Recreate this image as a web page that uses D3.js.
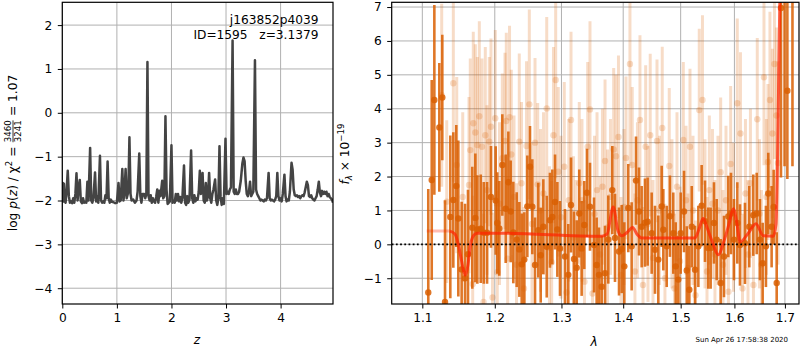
<!DOCTYPE html>
<html>
<head>
<meta charset="utf-8">
<script src="https://cdn.jsdelivr.net/npm/d3@7"></script>
<style>
  body { margin: 0; background: #fff; }
  svg text { font-family: "DejaVu Sans", sans-serif; fill: #000; }
</style>
</head>
<body>
<svg id="chart" width="800" height="350"></svg>
<script>
// ---------- redshift probability, log p(z) ----------
const pzZ = [0.00,0.01,0.02,0.03,0.04,0.06,0.08,0.10,0.12,0.14,0.16,0.18,0.20,0.22,0.24,0.26,0.28,0.30,0.32,0.34,
  0.36,0.38,0.40,0.42,0.44,0.46,0.48,0.51,0.53,0.55,0.57,0.60,0.62,0.64,0.66,0.69,0.71,0.73,0.75,0.77,
  0.79,0.81,0.83,0.85,0.87,0.89,0.91,0.94,0.97,1.00,1.03,1.05,1.07,1.10,1.12,1.14,1.16,1.18,1.21,1.23,
  1.25,1.27,1.30,1.33,1.36,1.38,1.41,1.43,1.45,1.47,1.50,1.52,1.54,1.56,1.58,1.60,1.62,1.64,1.66,1.68,
  1.70,1.72,1.74,1.76,1.78,1.80,1.83,1.85,1.87,1.89,1.91,1.93,1.95,1.97,2.00,2.02,2.04,2.06,2.08,2.10,
  2.12,2.14,2.16,2.18,2.20,2.23,2.25,2.27,2.29,2.31,2.33,2.36,2.38,2.40,2.42,2.44,2.46,2.48,2.50,2.52,
  2.54,2.57,2.59,2.61,2.63,2.65,2.67,2.69,2.71,2.73,2.75,2.77,2.80,2.82,2.84,2.86,2.88,2.90,2.92,2.94,
  2.96,2.99,3.01,3.03,3.05,3.07,3.09,3.12,3.14,3.16,3.18,3.20,3.22,3.24,3.27,3.30,3.32,3.34,3.36,3.38,
  3.40,3.42,3.44,3.46,3.48,3.50,3.53,3.55,3.57,3.59,3.61,3.63,3.65,3.67,3.69,3.71,3.73,3.75,3.78,3.80,
  3.82,3.84,3.86,3.88,3.90,3.92,3.94,3.96,3.98,4.00,4.02,4.04,4.07,4.09,4.11,4.13,4.15,4.17,4.20,4.22,
  4.24,4.26,4.28,4.30,4.32,4.34,4.36,4.38,4.40,4.42,4.44,4.46,4.48,4.50,4.52,4.54,4.56,4.58,4.60,4.62,
  4.64,4.66,4.68,4.70,4.72,4.74,4.76,4.78,4.80,4.82,4.84,4.86,4.88,4.90,4.92,4.94,4.96];
const pzLog = [-1.98,-1.60,-2.02,-1.62,-1.95,-2.05,-1.75,-1.32,-1.90,-2.05,-2.02,-2.06,-1.95,-2.05,-1.85,-1.38,-2.00,-1.70,-1.53,-2.02,
  -2.06,-1.95,-2.05,-2.04,-2.05,-1.57,-2.00,-0.80,-2.00,-2.05,-1.95,-1.36,-2.02,-1.90,-2.05,-0.98,-2.00,-2.05,-2.02,-2.05,
  -1.88,-1.95,-1.11,-1.95,-2.05,-1.98,-2.03,-2.04,-2.06,-2.05,-1.60,-2.02,-2.00,-1.28,-2.00,-1.80,-1.28,-1.95,-1.80,-0.56,
  -1.85,-2.00,-1.98,-2.05,-2.00,-1.80,-0.93,-1.90,-2.05,-1.85,-1.85,-1.95,-1.85,1.16,-1.90,-2.00,-1.88,-2.05,-1.95,-2.02,
  -2.05,-1.92,-1.75,-2.05,-1.78,-1.90,-1.55,-1.95,-1.90,-0.08,-1.75,-2.08,-2.05,-2.02,-0.74,-2.05,-2.00,-2.05,-1.85,-2.00,
  -1.85,-2.02,-1.92,-2.05,-1.95,-1.20,-2.05,-2.10,-1.90,-2.05,-1.98,-0.86,-1.95,-2.05,-1.88,-2.02,-1.95,-1.98,-1.80,-1.32,
  -1.85,-1.37,-2.00,-2.05,-1.60,-2.00,-1.90,-1.37,-1.95,-2.05,-1.85,-1.75,-1.52,-2.00,-2.10,-1.95,-0.76,-1.90,-2.10,-1.95,
  -2.08,-0.59,-1.85,-1.80,-1.85,-1.75,-1.70,1.65,-1.80,-1.85,-1.75,-1.85,-1.85,-1.80,-1.55,-1.15,-1.02,-1.10,-1.55,-1.85,
  -1.90,-1.80,-1.57,-1.90,-1.85,-1.80,1.20,-1.75,-1.85,-1.90,-1.95,-2.00,-1.98,-2.00,-2.02,-1.98,-2.00,-1.95,-1.37,-1.95,
  -2.00,-1.98,-2.00,-2.02,-1.98,-1.90,-1.37,-1.90,-2.00,-1.95,-2.02,-1.85,-1.41,-1.90,-2.02,-1.98,-2.00,-1.80,-1.14,-1.30,
  -1.75,-1.88,-1.90,-1.88,-1.92,-1.90,-1.95,-1.90,-1.88,-1.90,-1.82,-1.70,-1.57,-1.65,-1.90,-1.92,-1.88,-1.95,-1.98,-2.00,
  -1.95,-1.90,-1.75,-1.57,-1.82,-1.90,-1.78,-1.85,-1.80,-1.85,-1.80,-1.90,-1.85,-1.92,-1.95,-1.98,-2.05];
const pzTicksX = [0, 1, 2, 3, 4];
const pzTicksY = [-4, -3, -2, -1, 0, 1, 2];

// ---------- spectrum: primary grism extraction ----------
const specLam = [1.1079,1.1125,1.1160,1.1227,1.1267,1.1304,1.1376,1.1417,1.1458,1.1486,
  1.1532,1.1579,1.1620,1.1680,1.1723,1.1751,1.1799,1.1842,1.1889,1.1945,
  1.2013,1.2036,1.2065,1.2109,1.2158,1.2197,1.2231,1.2270,1.2320,1.2359,
  1.2394,1.2433,1.2478,1.2518,1.2553,1.2594,1.2643,1.2680,1.2720,1.2772,
  1.2822,1.2858,1.2900,1.2936,1.2977,1.3055,1.3107,1.3150,1.3197,1.3240,
  1.3281,1.3319,1.3361,1.3404,1.3453,1.3518,1.3561,1.3599,1.3643,1.3698,
  1.3752,1.3818,1.3863,1.3930,1.3975,1.4019,1.4086,1.4143,1.4217,1.4268,
  1.4314,1.4371,1.4417,1.4487,1.4545,1.4603,1.4662,1.4691,1.4751,1.4808,
  1.4868,1.4911,1.4958,1.5001,1.5061,1.5110,1.5157,1.5201,1.5261,1.5322,
  1.5383,1.5445,1.5506,1.5550,1.5612,1.5663,1.5738,1.5801,1.5883,1.5934,
  1.5992,1.6056,1.6107,1.6204,1.6288,1.6367,1.6434,1.6498,1.6552,1.6617,
  1.6664,1.6731,1.6772,1.6833,1.6920,1.6993,1.7050,1.7155];
const specFlux = [-1.42,1.90,4.26,3.45,4.33,-1.70,0.81,1.31,1.72,0.76,
  -0.74,-1.00,-0.29,0.49,0.78,0.44,0.46,0.34,0.34,1.40,
  1.29,0.63,0.47,2.34,1.05,1.83,0.97,0.35,0.14,-0.15,
  -0.59,-0.45,1.12,2.29,1.11,-0.61,0.42,-0.32,0.52,-0.07,
  0.71,0.81,1.25,0.44,-0.12,-0.36,-0.90,1.16,-0.43,-0.69,
  0.91,-0.12,0.57,1.52,1.11,-0.02,-0.61,-0.90,-1.25,-0.85,
  0.14,1.60,0.19,-0.21,-0.14,-0.65,1.07,-0.06,1.88,0.97,
  0.52,0.64,0.67,0.33,-0.16,-0.45,1.12,0.43,-0.06,0.83,
  0.33,-0.65,-1.04,0.33,0.97,-0.77,-1.34,0.52,-0.75,-0.06,
  1.14,0.68,-0.11,-0.11,0.63,0.14,-1.14,-0.36,0.82,0.91,
  0.14,0.63,-0.02,0.03,0.52,0.86,0.91,0.14,-0.56,-0.06,
  1.50,0.52,1.10,-1.14,6.97,8.50,4.53,9.00];
const specErr = [3.05,2.95,2.80,1.90,1.85,3.00,2.40,2.00,1.80,2.30,
  2.00,2.20,1.90,1.80,1.90,1.60,1.60,1.50,1.50,1.50,
  1.60,1.50,1.40,1.50,1.60,1.50,1.50,1.50,1.40,1.40,
  1.50,1.40,1.50,1.20,1.40,1.40,1.40,1.40,1.40,1.50,
  1.40,1.40,1.40,1.40,1.40,1.40,1.50,1.40,1.40,1.40,
  1.30,1.40,1.30,1.30,1.30,1.40,1.40,1.40,1.50,1.40,
  1.30,1.30,1.30,1.30,1.30,1.30,1.30,1.30,1.30,1.30,
  1.20,1.30,1.30,1.20,1.30,1.30,1.20,1.20,1.20,1.20,
  1.20,1.30,1.30,1.20,1.20,1.30,1.30,1.20,1.30,1.20,
  1.20,1.20,1.20,1.20,1.20,1.20,1.30,1.20,1.20,1.20,
  1.20,1.20,1.20,1.20,1.20,1.20,1.20,1.20,1.20,1.20,
  1.20,1.20,1.10,1.50,5.00,6.20,2.60,6.70];

// ---------- spectrum: secondary (contaminated / other orient) extraction ----------
const altLam = [1.1259,1.1327,1.1417,1.1464,1.1547,1.1634,1.1652,1.1686,1.1694,1.1723,
  1.1751,1.1779,1.1817,1.1839,1.1864,1.1888,1.1921,1.1945,1.1967,1.2007,
  1.2036,1.2068,1.2109,1.2148,1.2167,1.2187,1.2214,1.2240,1.2280,1.2317,
  1.2358,1.2391,1.2428,1.2466,1.2508,1.2548,1.2594,1.2634,1.2677,1.2723,
  1.2772,1.2814,1.2848,1.2876,1.2910,1.2950,1.2993,1.3044,1.3079,1.3115,
  1.3150,1.3189,1.3229,1.3281,1.3324,1.3364,1.3416,1.3453,1.3494,1.3526,
  1.3567,1.3615,1.3656,1.3698,1.3739,1.3788,1.3841,1.3880,1.3921,1.3963,
  1.4013,1.4047,1.4114,1.4153,1.4199,1.4242,1.4285,1.4337,1.4383,1.4423,
  1.4462,1.4510,1.4580,1.4623,1.4672,1.4720,1.4796,1.4844,1.4889,1.4934,
  1.4988,1.5048,1.5097,1.5133,1.5169,1.5224,1.5270,1.5339,1.5398,1.5445,
  1.5482,1.5525,1.5584,1.5631,1.5687,1.5738,1.5782,1.5839,1.5886,1.5928,
  1.5982,1.6055,1.6117,1.6156,1.6214,1.6263,1.6311,1.6370,1.6445,1.6488,
  1.6528,1.6578,1.6627,1.6657,1.6697,1.6747,1.6788,1.6828,1.6859];
const altFlux = [4.40,1.26,4.75,2.34,1.40,1.75,2.78,-1.17,3.57,3.30,
  2.93,3.78,2.88,-1.70,3.22,1.60,3.03,3.47,-1.57,3.72,
  -0.82,1.20,2.54,3.05,3.64,-0.42,3.75,2.65,1.40,-0.60,
  3.03,1.80,-1.30,2.90,4.13,0.60,3.00,1.77,1.00,1.50,
  4.01,-0.10,-0.53,3.22,4.85,2.14,0.80,2.29,-1.42,1.30,
  3.67,0.20,-0.50,1.80,1.30,-1.10,2.88,3.98,-1.45,0.90,
  1.60,-0.30,1.70,2.46,0.50,1.40,2.80,2.60,3.17,-0.90,
  1.10,2.55,5.32,2.34,-0.80,1.30,3.67,-1.20,2.88,0.60,
  3.22,-0.40,3.05,1.00,3.43,-1.00,2.31,0.90,-1.30,1.70,
  -0.50,3.08,1.30,-0.70,2.88,1.00,-1.50,3.96,4.26,0.90,
  -0.80,1.60,1.20,-0.30,1.00,2.13,-0.60,1.30,-1.40,2.37,
  0.80,4.16,3.27,-1.30,1.50,-0.30,1.80,-1.20,3.69,0.90,
  -0.60,4.93,1.40,2.43,4.26,3.27,5.32,3.80,2.40];
const altErr = [2.7,2.4,2.9,2.6,2.5,2.6,2.7,2.6,2.7,2.6,
  2.6,2.8,2.6,2.6,2.6,2.5,2.5,2.6,2.5,2.6,
  2.4,2.4,2.5,2.6,2.6,2.4,2.7,2.5,2.4,2.4,
  2.6,2.4,2.4,2.5,2.8,2.4,2.5,2.4,2.4,2.4,
  2.7,2.4,2.4,2.6,2.9,2.5,2.4,2.5,2.4,2.4,
  2.6,2.4,2.4,2.4,2.4,2.4,2.5,2.6,2.4,2.3,
  2.3,2.3,2.3,2.4,2.3,2.3,2.4,2.4,2.4,2.3,
  2.3,2.4,3.0,2.3,2.3,2.3,2.5,2.3,2.4,2.3,
  2.4,2.3,2.4,2.2,2.4,2.2,2.3,2.2,2.2,2.2,
  2.2,2.3,2.2,2.2,2.3,2.2,2.2,2.4,2.5,2.2,
  2.2,2.2,2.2,2.2,2.2,2.2,2.2,2.2,2.2,2.3,
  2.2,2.5,2.4,2.2,2.2,2.2,2.2,2.2,2.4,2.2,
  2.2,2.6,2.3,2.3,2.6,2.5,2.8,2.6,3.0];

// ---------- best-fit template ----------
const modelLam = [1.1058,1.1372,1.1440,1.1486,1.1532,1.1579,1.1620,1.1648,1.1695,1.1747,
  1.2027,1.3643,1.3730,1.3834,1.3913,1.3975,1.4064,1.4160,1.4234,1.4314,
  1.5261,1.5334,1.5413,1.5482,1.5575,1.5694,1.5801,1.5896,1.5979,1.6050,
  1.6107,1.6268,1.6419,1.6564,1.6765,1.6820,1.6860,1.6899,1.6940];
const modelFlux = [0.39,0.39,0.30,0.00,-0.50,-0.91,-0.60,-0.10,0.25,0.33,
  0.33,0.24,0.30,1.10,0.40,0.25,0.35,0.50,0.30,0.19,
  0.19,0.45,0.77,0.50,0.10,-0.31,0.10,0.60,1.05,0.60,
  0.07,0.33,0.61,0.25,0.24,0.60,3.50,7.50,12.0];
const specTicksX = [1.1, 1.2, 1.3, 1.4, 1.5, 1.6, 1.7];
const specTicksY = [-1, 0, 1, 2, 3, 4, 5, 6, 7];

// ---------- layout ----------
const FS = 12.2;
const GRID = "#b0b0b0";
const ORANGE = "#d95f02";
const svg = d3.select("#chart");

const PL = {x0: 62.3, x1: 333, y0: 2.3, y1: 304};
const PR = {x0: 391.7, x1: 799, y0: 2.3, y1: 304};

const xL = d3.scaleLinear().domain([0, 4.96]).range([PL.x0, PL.x1]);
const yL = d3.scaleLinear().domain([-4.36, 2.52]).range([PL.y1, PL.y0]);
const xR = d3.scaleLog().domain([1.0603, 1.729]).range([PR.x0, PR.x1]);
const yR = d3.scaleLinear().domain([-1.76, 7.14]).range([PR.y1, PR.y0]);

const defs = svg.append("defs");
function clip(id, p) {
  defs.append("clipPath").attr("id", id).append("rect")
    .attr("x", p.x0).attr("y", p.y0).attr("width", p.x1 - p.x0).attr("height", p.y1 - p.y0);
}
clip("clipL", PL);
clip("clipR", PR);

function grid(p, xs, ys, xv, yv) {
  const g = svg.append("g").attr("stroke", GRID).attr("stroke-width", 1);
  xv.forEach(v => g.append("line").attr("x1", xs(v)).attr("x2", xs(v)).attr("y1", p.y0).attr("y2", p.y1));
  yv.forEach(v => g.append("line").attr("x1", p.x0).attr("x2", p.x1).attr("y1", ys(v)).attr("y2", ys(v)));
}

function axes(p, xs, ys, xv, yv, xfmt, yfmt) {
  const ax = svg.append("g").attr("transform", `translate(0,${p.y1})`)
    .call(d3.axisBottom(xs).tickValues(xv).tickFormat(xfmt).tickSize(4.5).tickPadding(5));
  const ay = svg.append("g").attr("transform", `translate(${p.x0},0)`)
    .call(d3.axisLeft(ys).tickValues(yv).tickFormat(yfmt).tickSize(4.5).tickPadding(5.5));
  [ax, ay].forEach(a => {
    a.select(".domain").remove();
    a.selectAll("text").attr("font-size", FS).attr("font-family", "DejaVu Sans").attr("fill", "#000");
    a.selectAll("line").attr("stroke", "#000").attr("stroke-width", 1);
  });
}

function frame(p) {
  svg.append("rect").attr("x", p.x0).attr("y", p.y0)
    .attr("width", p.x1 - p.x0).attr("height", p.y1 - p.y0)
    .attr("fill", "none").attr("stroke", "#000").attr("stroke-width", 1.2);
}

const minus = v => String(v).replace("-", "\u2212");

// ---------- left panel: log p(z) ----------
grid(PL, xL, yL, pzTicksX, pzTicksY);
svg.append("path")
  .datum(pzZ.map((z, i) => [z, pzLog[i]]))
  .attr("clip-path", "url(#clipL)")
  .attr("fill", "none").attr("stroke", "#444").attr("stroke-width", 2.5)
  .attr("stroke-linejoin", "round")
  .attr("d", d3.line().x(d => xL(d[0])).y(d => yL(d[1])));
axes(PL, xL, yL, pzTicksX, pzTicksY, d => String(d), minus);
frame(PL);

svg.append("text").attr("x", 318.5).attr("y", 24).attr("text-anchor", "end")
  .attr("font-size", FS).text("j163852p4039");
svg.append("text").attr("x", 318.5).attr("y", 39).attr("text-anchor", "end")
  .attr("font-size", FS).attr("xml:space", "preserve").text("ID=1595   z=3.1379");

svg.append("text").attr("x", 197).attr("y", 344).attr("text-anchor", "middle")
  .attr("font-size", FS).attr("font-style", "italic").text("z");

// y label: log p(z) / χ² = 3460/3241 = 1.07
(function () {
  const g = svg.append("g").attr("transform", "translate(17,153) rotate(-90)");
  const t1 = g.append("text").attr("font-size", FS).attr("xml:space", "preserve");
  t1.append("tspan").text("log ");
  t1.append("tspan").attr("font-style", "italic").text("p");
  t1.append("tspan").text("(");
  t1.append("tspan").attr("font-style", "italic").text("z");
  t1.append("tspan").text(") / \u03c7");
  t1.append("tspan").attr("font-size", 8.6).attr("dy", -5).text("2");
  t1.append("tspan").attr("dy", 5).text(" = ");
  const w1 = t1.node().getComputedTextLength();
  const num = g.append("text").attr("font-size", 8.6).attr("text-anchor", "middle").attr("y", -6.2).text("3460");
  const den = g.append("text").attr("font-size", 8.6).attr("text-anchor", "middle").attr("y", 4.2).text("3241");
  const fw = Math.max(num.node().getComputedTextLength(), den.node().getComputedTextLength());
  num.attr("x", w1 + fw / 2 + 0.5);
  den.attr("x", w1 + fw / 2 + 0.5);
  g.append("line").attr("x1", w1 + 0.5).attr("x2", w1 + fw + 0.5)
    .attr("y1", -4).attr("y2", -4).attr("stroke", "#000").attr("stroke-width", 0.8);
  const t2 = g.append("text").attr("font-size", FS).attr("xml:space", "preserve")
    .attr("x", w1 + fw + 1).text(" = 1.07");
  const total = w1 + fw + 1 + t2.node().getComputedTextLength();
  g.selectAll("text, line").attr("transform", `translate(${-total / 2},0)`);
})();

// ---------- right panel: spectrum ----------
grid(PR, xR, yR, specTicksX, specTicksY);
const body = svg.append("g").attr("clip-path", "url(#clipR)");

function errSeries(lam, flux, err, opacity, barWidth) {
  const g = body.append("g");
  lam.forEach((l, i) => {
    g.append("line")
      .attr("x1", xR(l)).attr("x2", xR(l))
      .attr("y1", yR(flux[i] - err[i])).attr("y2", yR(flux[i] + err[i]))
      .attr("stroke", ORANGE).attr("stroke-opacity", opacity).attr("stroke-width", barWidth);
  });
  lam.forEach((l, i) => {
    g.append("circle").attr("cx", xR(l)).attr("cy", yR(flux[i])).attr("r", 3.2)
      .attr("fill", ORANGE).attr("fill-opacity", opacity);
  });
}
errSeries(altLam, altFlux, altErr, 0.22, 3);
errSeries(specLam, specFlux, specErr, 0.85, 2.6);

// zero level
body.append("line").attr("x1", PR.x0).attr("x2", PR.x1)
  .attr("y1", yR(0)).attr("y2", yR(0))
  .attr("stroke", "#000").attr("stroke-width", 1.8).attr("stroke-dasharray", "1.8,2.4");

// template: faint outside data coverage, stronger inside
const model = modelLam.map((l, i) => [l, modelFlux[i]]);
const mline = d3.line().x(d => xR(d[0])).y(d => yR(d[1])).curve(d3.curveMonotoneX);
body.append("path").datum(model.slice(0, 2))
  .attr("fill", "none").attr("stroke", "#ff2200").attr("stroke-opacity", 0.3)
  .attr("stroke-width", 3).attr("d", mline);
body.append("path").datum(model.slice(1))
  .attr("fill", "none").attr("stroke", "#ff2200").attr("stroke-opacity", 0.72)
  .attr("stroke-width", 3).attr("stroke-linejoin", "round").attr("d", mline);

axes(PR, xR, yR, specTicksX, specTicksY, d3.format(".1f"), minus);
frame(PR);

svg.append("text").attr("x", 594).attr("y", 346).attr("text-anchor", "middle")
  .attr("font-size", FS).attr("font-style", "italic").text("\u03bb");

// y label: f_λ × 10^-19
(function () {
  const t = svg.append("text").attr("font-size", FS).attr("text-anchor", "middle")
    .attr("transform", "translate(349,154) rotate(-90)");
  t.append("tspan").attr("font-style", "italic").text("f");
  t.append("tspan").attr("font-style", "italic").attr("font-size", 8.6).attr("dy", 2.5).text("\u03bb");
  t.append("tspan").attr("dy", -2.5).text(" \u00d7 10");
  t.append("tspan").attr("font-size", 8.6).attr("dy", -5).text("\u221219");
})();

svg.append("text").attr("x", 788).attr("y", 342).attr("text-anchor", "end")
  .attr("font-size", 7).text("Sun Apr 26 17:58:38 2020");
</script>
</body>
</html>
